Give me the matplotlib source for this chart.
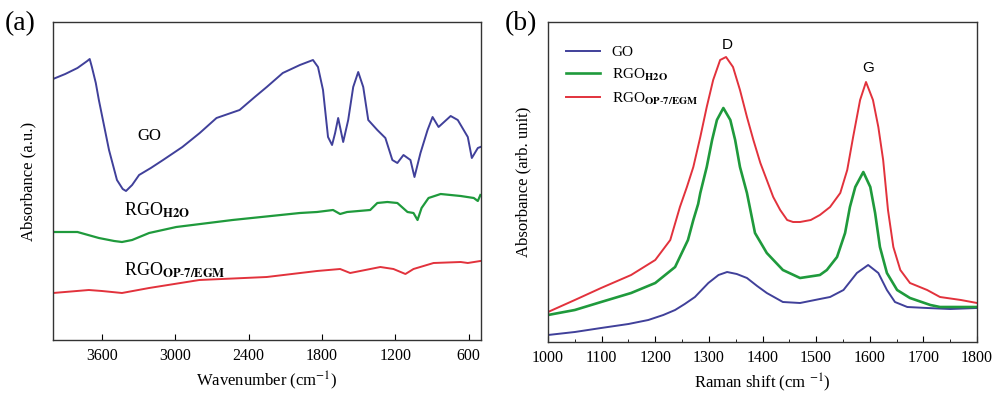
import matplotlib
matplotlib.use("Agg")
import matplotlib.pyplot as plt
from matplotlib.ticker import MultipleLocator

plt.rcParams['font.family'] = 'Liberation Serif'
plt.rcParams['mathtext.fontset'] = 'stix'

# (a) FTIR spectra, wavenumber (cm-1) vs absorbance (a.u.)
go_wn = [4000, 3900, 3800, 3720, 3700, 3682, 3650, 3625, 3542, 3477, 3430, 3403, 3353,
         3296, 3200, 3100, 2942, 2800, 2663, 2474, 2350, 2252, 2121, 1981, 1874,
         1833, 1792, 1751, 1718, 1693, 1668, 1627, 1586, 1545, 1504, 1463, 1422,
         1348, 1282, 1225, 1184, 1134, 1077, 1044, 995, 937, 896, 847, 748, 690,
         608, 575, 526, 505]
go_ab = [261, 266, 272, 279, 281, 273, 257, 240, 190, 160, 151, 149, 155,
         165, 172, 180, 193, 207, 222, 230, 243, 253, 267, 275, 280,
         273, 250, 203, 195, 207, 222, 198, 220, 253, 268, 253, 220,
         210, 202, 180, 177, 185, 180, 163, 187, 210, 223, 213, 224, 220,
         203, 182, 192, 193]

h2o_wn = [4000, 3800, 3625, 3500, 3436, 3353, 3214, 2992, 2532, 1981, 1841, 1710,
          1652, 1595, 1406, 1348, 1266, 1184, 1101, 1052, 1019, 986, 929, 830,
          666, 559, 526, 505]
h2o_ab = [108, 108, 102, 99, 98, 100, 107, 113, 120, 127, 128, 130,
          126, 128, 130, 137, 138, 137, 128, 127, 120, 132, 142, 146,
          144, 142, 139, 145]

op7_wn = [4000, 3707, 3600, 3436, 3214, 2803, 2252, 1841, 1652, 1570, 1323, 1216,
          1118, 1052, 888, 666, 608, 505]
op7_ab = [47, 50, 49, 47, 52, 60, 63, 69, 71, 67, 73, 71,
          66, 71, 77, 78, 77, 79]

# (b) Raman spectra, Raman shift (cm-1) vs intensity (arb. unit)
go_rs = [1000, 1050, 1099, 1150, 1187, 1215, 1237, 1255, 1274, 1299, 1318, 1334,
         1352, 1371, 1390, 1408, 1438, 1470, 1507, 1526, 1551, 1576, 1597, 1616,
         1632, 1647, 1670, 1707, 1750, 1800]
go_ri = [7, 10, 14, 18, 22, 27, 32, 38, 45, 59, 67, 70,
         68, 64, 56, 49, 40, 39, 43, 45, 52, 69, 77, 69,
         52, 40, 35, 34, 33, 34]

h2o_rs = [1000, 1050, 1099, 1155, 1200, 1237, 1261, 1271, 1280, 1284, 1296, 1306,
          1315, 1327, 1340, 1349, 1358, 1371, 1386, 1408, 1438, 1470, 1507, 1520,
          1539, 1554, 1563, 1573, 1588, 1601, 1610, 1619, 1632, 1651, 1675, 1713,
          1731, 1800]
h2o_ri = [27, 32, 40, 49, 59, 75, 102, 122, 138, 149, 175, 202,
          222, 234, 222, 202, 175, 149, 109, 89, 72, 64, 67, 72,
          85, 109, 135, 155, 170, 155, 129, 95, 69, 52, 44, 37,
          35, 35]

op7_rs = [1000, 1050, 1099, 1155, 1200, 1228, 1246, 1259, 1271, 1284, 1296, 1308,
          1321, 1332, 1345, 1358, 1371, 1383, 1396, 1408, 1420, 1433, 1446, 1457,
          1470, 1490, 1507, 1526, 1545, 1558, 1569, 1582, 1593, 1606, 1616, 1625,
          1634, 1644, 1657, 1675, 1707, 1731, 1770, 1800]
op7_ri = [30, 42, 54, 67, 82, 102, 135, 155, 175, 205, 235, 262,
          282, 285, 275, 252, 225, 202, 179, 162, 145, 132, 122, 120,
          120, 122, 127, 135, 149, 172, 205, 242, 260, 242, 215, 182,
          132, 95, 72, 59, 52, 45, 42, 39]

c_go, c_h2o, c_op7 = '#40409a', '#1f9a3c', '#e2323c'
lbl_h2o = r'RGO$_{\mathbf{H2O}}$'
lbl_op7 = r'RGO$_{\mathbf{OP\text{-}7/EGM}}$'

fig = plt.figure(figsize=(9.93, 3.94), dpi=100)
ax1 = fig.add_axes([53/993, 1-340/394, 428/993, 318/394])
ax2 = fig.add_axes([548/993, 1-342/394, 429/993, 320/394])

ax1.plot(go_wn, go_ab, color=c_go, lw=1.4)
ax1.plot(h2o_wn, h2o_ab, color=c_h2o, lw=1.6)
ax1.plot(op7_wn, op7_ab, color=c_op7, lw=1.4)
ax1.set_xlim(4000, 500)
ax1.set_ylim(0, 318)
ax1.set_xticks([3600, 3000, 2400, 1800, 1200, 600])
ax1.set_yticks([])
ax1.tick_params(axis='x', direction='in', length=4, labelsize=11.5, pad=6)
ax1.set_xlabel(r'Wavenumber (cm$^{-1}$)', fontsize=12)
ax1.set_ylabel('Absorbance (a.u.)', fontsize=12, labelpad=12)
ax1.text(3310, 200, 'GO', fontsize=12)
ax1.text(3420, 124, lbl_h2o, fontsize=13)
ax1.text(3420, 64, lbl_op7, fontsize=13)

ax2.plot(go_rs, go_ri, color=c_go, lw=1.4, label='GO')
ax2.plot(h2o_rs, h2o_ri, color=c_h2o, lw=1.9, label=lbl_h2o)
ax2.plot(op7_rs, op7_ri, color=c_op7, lw=1.4, label=lbl_op7)
ax2.set_xlim(1000, 1800)
ax2.set_ylim(0, 320)
ax2.xaxis.set_major_locator(MultipleLocator(100))
ax2.xaxis.set_minor_locator(MultipleLocator(50))
ax2.set_yticks([])
ax2.tick_params(axis='x', which='major', direction='in', length=4, labelsize=11.5, pad=6)
ax2.tick_params(axis='x', which='minor', direction='in', length=2.5)
ax2.set_xlabel(r'Raman shift (cm $^{-1}$)', fontsize=12)
ax2.set_ylabel('Absorbance (arb. unit)', fontsize=12, labelpad=12)
ax2.text(1335, 293, 'D', fontsize=11, family='Liberation Sans', ha='center')
ax2.text(1597, 270, 'G', fontsize=11, family='Liberation Sans', ha='center')
ax2.legend(loc='upper left', frameon=False, fontsize=11, handlelength=2.2,
           bbox_to_anchor=(0.01, 0.97), labelspacing=0.5)

for ax in (ax1, ax2):
    for s in ax.spines.values():
        s.set_color('#333333')
        s.set_linewidth(1.0)

fig.text(5/993, 1-30/394, '(a)', fontsize=20)
fig.text(505/993, 1-30/394, '(b)', fontsize=20)

fig.savefig('out.png', dpi=100)
